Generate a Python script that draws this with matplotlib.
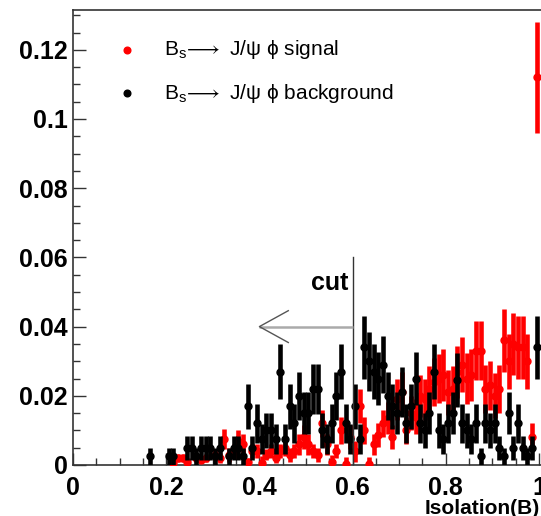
import numpy as np
import matplotlib
matplotlib.use("Agg")
import matplotlib.pyplot as plt

plt.rcParams["font.family"] = ["Liberation Sans", "DejaVu Sans"]
plt.rcParams["mathtext.fontset"] = "custom"
plt.rcParams["mathtext.rm"] = "Liberation Sans"
plt.rcParams["mathtext.fallback"] = "stixsans"

# 100 bins of isolation between 0 and 1 (unit-area normalised)
bin_edges = np.linspace(0.0, 1.0, 101)

signal = [
    0, 0, 0, 0, 0, 0, 0, 0, 0, 0,
    0, 0, 0, 0, 0, 0, 0, 0, 0, 0,
    0, 0.0005, 0.002, 0.002, 0.001, 0, 0.002, 0.0015, 0.002, 0,
    0.003, 0.002, 0.0075, 0.003, 0.004, 0.007, 0.006, 0.001, 0.004, 0.004,
    0.0005, 0.003, 0.004, 0.002, 0.004, 0.005, 0.003, 0.004, 0.006, 0.008,
    0.006, 0.004, 0.003, 0.012, 0.006, 0.001, 0.004, 0.010, 0.0003, 0.008,
    0.004, 0.017, 0.010, 0.0003, 0.006, 0.0087, 0.012, 0.0136, 0.008, 0.019,
    0.021, 0.010, 0.015, 0.014, 0.020, 0.019, 0.022, 0.024, 0.025, 0.026,
    0.021, 0.022, 0.027, 0.029, 0.025, 0.026, 0.033, 0.033, 0.022, 0.023,
    0.020, 0.022, 0.036, 0.030, 0.035, 0.034, 0.034, 0.030, 0.008, 0.112,
]
signal_err = [
    0, 0, 0, 0, 0, 0, 0, 0, 0, 0,
    0, 0, 0, 0, 0, 0, 0, 0, 0, 0,
    0, 0.0025, 0.0012, 0.0012, 0.001, 0, 0.0012, 0.001, 0.0012, 0,
    0.0015, 0.0015, 0.003, 0.002, 0.002, 0.003, 0.003, 0.001, 0.002, 0.002,
    0.002, 0.0015, 0.002, 0.0015, 0.002, 0.0025, 0.002, 0.002, 0.003, 0.0035,
    0.003, 0.002, 0.002, 0.004, 0.003, 0.002, 0.002, 0.004, 0.002, 0.0035,
    0.003, 0.005, 0.004, 0.002, 0.003, 0.0035, 0.004, 0.0045, 0.0035, 0.006,
    0.006, 0.004, 0.005, 0.005, 0.006, 0.006, 0.0065, 0.007, 0.007, 0.0075,
    0.0065, 0.0065, 0.0075, 0.008, 0.0075, 0.0075, 0.0085, 0.0085, 0.007, 0.007,
    0.0065, 0.007, 0.009, 0.008, 0.009, 0.009, 0.009, 0.008, 0.004, 0.016,
]

background = [
    0, 0, 0, 0, 0, 0, 0, 0, 0, 0,
    0, 0, 0, 0, 0, 0, 0.0025, 0, 0, 0,
    0.0025, 0.0025, 0, 0, 0.005, 0.005, 0.0025, 0.005, 0.005, 0.005,
    0.0025, 0.005, 0, 0.0025, 0.005, 0.005, 0.0025, 0.017, 0.005, 0.012,
    0.0075, 0.010, 0.010, 0.0075, 0.027, 0.0075, 0.017, 0.012, 0.020, 0.015,
    0.015, 0.022, 0.022, 0.010, 0.0075, 0.012, 0.020, 0.027, 0.012, 0.0075,
    0.017, 0.0075, 0.034, 0.030, 0.027, 0.025, 0.029, 0.020, 0.017, 0.015,
    0.021, 0.012, 0.017, 0.025, 0.012, 0.010, 0.015, 0.027, 0.010, 0.0075,
    0.012, 0.015, 0.0245, 0.012, 0.010, 0.0075, 0.012, 0.0025, 0.012, 0.010,
    0.012, 0.005, 0.0025, 0.015, 0.005, 0.012, 0.005, 0.0025, 0.005, 0.034,
]
background_err = [
    0, 0, 0, 0, 0, 0, 0, 0, 0, 0,
    0, 0, 0, 0, 0, 0, 0.0025, 0, 0, 0,
    0.0025, 0.0025, 0, 0, 0.0035, 0.0035, 0.0025, 0.0035, 0.0035, 0.0035,
    0.0025, 0.0035, 0, 0.0025, 0.0035, 0.0035, 0.0025, 0.0065, 0.0035, 0.0055,
    0.0043, 0.005, 0.005, 0.0043, 0.008, 0.0043, 0.0065, 0.0055, 0.007, 0.006,
    0.006, 0.0073, 0.0073, 0.005, 0.0043, 0.0055, 0.007, 0.008, 0.0055, 0.0043,
    0.0065, 0.0043, 0.009, 0.0085, 0.008, 0.0078, 0.0083, 0.007, 0.0065, 0.006,
    0.0072, 0.0055, 0.0065, 0.0078, 0.0055, 0.005, 0.006, 0.008, 0.005, 0.0043,
    0.0055, 0.006, 0.0078, 0.0055, 0.005, 0.0043, 0.0055, 0.0025, 0.0055, 0.005,
    0.0055, 0.0035, 0.0025, 0.006, 0.0035, 0.0055, 0.0035, 0.0025, 0.0035, 0.0092,
]

legend_labels = [r"B$_{\mathregular{s}}\!\longrightarrow$ J/ψ ϕ signal",
                 r"B$_{\mathregular{s}}\!\longrightarrow$ J/ψ ϕ background"]
x_label = "Isolation(B)"
cut_value = 0.6
cut_label = "cut"

W, H = 541, 516
fig = plt.figure(figsize=(W / 100, H / 100), dpi=100)
ax_left, ax_right, ax_top, ax_bottom = 73, 545, 10, 465
ax = fig.add_axes([ax_left / W, 1 - ax_bottom / H,
                   (ax_right - ax_left) / W, (ax_bottom - ax_top) / H])

centers = 0.5 * (bin_edges[:-1] + bin_edges[1:])


def draw_hist(values, errors, color, z):
    v = np.asarray(values)
    e = np.asarray(errors)
    keep = (v > 0) | (e > 0)
    ax.errorbar(centers[keep], v[keep], yerr=e[keep], fmt="o", color=color,
                ms=5.0, elinewidth=3.3, capsize=0, zorder=z, clip_on=True)


draw_hist(signal, signal_err, "#ff0000", 3)
draw_hist(background, background_err, "#000000", 4)

xmax = (ax_right - ax_left) / 466.0
ymax = (ax_bottom - ax_top) / 3460.0
ax.set_xlim(0, xmax)
ax.set_ylim(0, ymax)

# cut marker with leftward arrow
ax.plot([cut_value, cut_value], [0, 0.06], color="#333333", lw=1.0, zorder=5)
ax.plot([cut_value, 0.4], [0.04, 0.04], color="#aaaaaa", lw=1.8, zorder=5,
        solid_capstyle="butt")
ax.plot([0.462, 0.4, 0.462], [0.0446, 0.04, 0.0354], color="#555555", lw=1.0,
        zorder=5)
ax.text(0.59, 0.0525, cut_label, ha="right", va="center", fontsize=18,
        fontweight="bold", zorder=6)

# axes styling
ax.set_xticks(np.arange(0, 1.01, 0.2))
ax.set_xticklabels(["0", "0.2", "0.4", "0.6", "0.8", "1"])
ax.set_xticks(np.arange(0, 1.01, 0.05), minor=True)
ax.set_yticks(np.arange(0, 0.121, 0.02))
ax.set_yticklabels(["0", "0.02", "0.04", "0.06", "0.08", "0.1", "0.12"])
ax.set_yticks(np.arange(0, 0.131, 0.005), minor=True)
ax.tick_params(axis="both", which="both", direction="in", colors="#333333")
ax.tick_params(axis="both", which="major", length=9, width=1.0,
               labelsize=18, labelcolor="black")
ax.tick_params(axis="both", which="minor", length=5, width=1.0)
ax.tick_params(axis="x", which="major", pad=8)
ax.tick_params(axis="y", which="major", pad=4)
for lab in ax.get_xticklabels() + ax.get_yticklabels():
    lab.set_fontweight("bold")
for side in ["left", "bottom", "top"]:
    ax.spines[side].set_color("#333333")
    ax.spines[side].set_linewidth(1.2)
ax.spines["right"].set_visible(False)

fig.text(425 / W, 1 - 508 / H, x_label, ha="left", va="center",
         fontsize=15, fontweight="bold")

# legend entries
def to_ax(px, py):
    return ((px - ax_left) / (ax_right - ax_left),
            (ax_bottom - py) / (ax_bottom - ax_top))

for (py_marker, py_text), color, label in zip([(50, 55), (93, 99)],
                                              ["#ff0000", "#000000"],
                                              legend_labels):
    mx, my = to_ax(127, py_marker)
    ax.plot([mx], [my], "o", color=color, ms=4.8, transform=ax.transAxes,
            clip_on=False, zorder=6)
    tx, ty = to_ax(164, py_text)
    ax.text(tx, ty, label, transform=ax.transAxes, ha="left", va="baseline",
            fontsize=15)

fig.savefig("out.png", dpi=100)
